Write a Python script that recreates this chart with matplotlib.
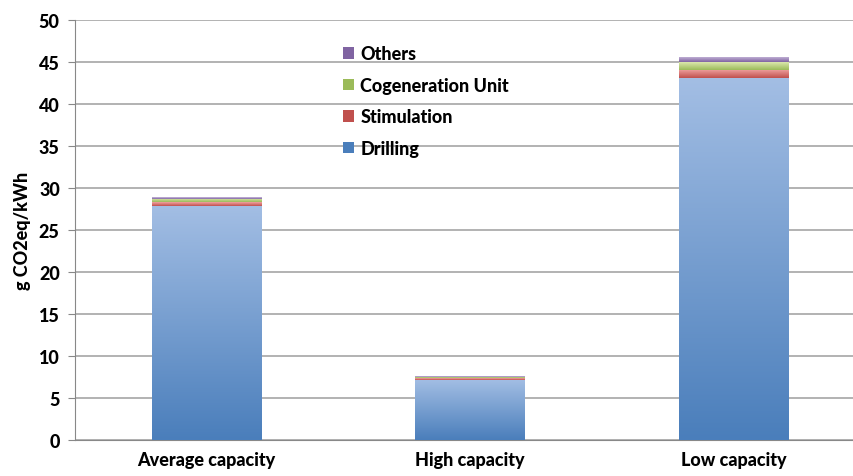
import numpy as np
import matplotlib.pyplot as plt
from matplotlib.colors import LinearSegmentedColormap
from matplotlib.patches import Patch

plt.rcParams['font.family'] = ['Lato', 'DejaVu Sans']
plt.rcParams['font.weight'] = 'bold'

categories = ['Average capacity', 'High capacity', 'Low capacity']
drilling = [27.9, 7.15, 43.05]
stimulation = [0.4, 0.2, 1.0]
cogeneration = [0.4, 0.2, 0.95]
others = [0.2, 0.1, 0.65]

series = [
    ('Drilling', drilling, '#a3bee4', '#4a7ebb'),
    ('Stimulation', stimulation, '#f0a3a1', '#c0504d'),
    ('Cogeneration Unit', cogeneration, '#dbe8ad', '#9bbb59'),
    ('Others', others, '#cbbcdd', '#8064a2'),
]

fig = plt.figure(figsize=(8.54, 4.77), dpi=100)
ax = fig.add_axes([75 / 854, 36 / 477, 790 / 854, 420 / 477])

x = np.arange(len(categories))
width = 0.415
bottom = np.zeros(len(categories))
grad = np.linspace(0, 1, 256).reshape(-1, 1)

for name, vals, light, dark in series:
    cmap = LinearSegmentedColormap.from_list(name, [dark, light])
    bars = ax.bar(x, vals, width, bottom=bottom, color='none', edgecolor='none', zorder=3)
    for b in bars:
        x0, y0 = b.get_x(), b.get_y()
        im = ax.imshow(grad, cmap=cmap, aspect='auto', origin='lower',
                       extent=[x0, x0 + b.get_width(), y0, y0 + b.get_height()], zorder=3)
        im.set_clip_path(b)
    bottom += np.array(vals)

fs = 13
ax.set_xlim(-0.5, 2.5)
ax.set_ylim(0, 50)
ax.set_yticks(np.arange(0, 51, 5))
ax.set_xticks(x)
ax.set_xticklabels(categories, fontsize=fs, fontweight='black')
for t in ax.get_yticklabels():
    t.set_fontweight('black')
ax.tick_params(axis='y', labelsize=fs, length=5, color='#888888', pad=6)
ax.tick_params(axis='x', length=0, pad=8)
ax.yaxis.grid(True, color='#a6a6a6', linewidth=1.2, zorder=0)
ax.set_axisbelow(True)
for s in ['top', 'right']:
    ax.spines[s].set_visible(False)
ax.spines['left'].set_color('#888888')
ax.spines['bottom'].set_color('#888888')
ax.set_ylabel('g CO2eq/kWh', fontsize=fs, fontweight='black', labelpad=6)

handles = [Patch(facecolor=dark, edgecolor='none', label=name) for name, _, _, dark in series][::-1]
leg = ax.legend(handles=handles, loc='upper left', bbox_to_anchor=(0.319, 0.978), frameon=False,
                fontsize=fs, handlelength=0.6, handleheight=0.6, handletextpad=0.35, labelspacing=0.8)
for t in leg.get_texts():
    t.set_fontweight('black')

fig.savefig('out.png', dpi=100)
